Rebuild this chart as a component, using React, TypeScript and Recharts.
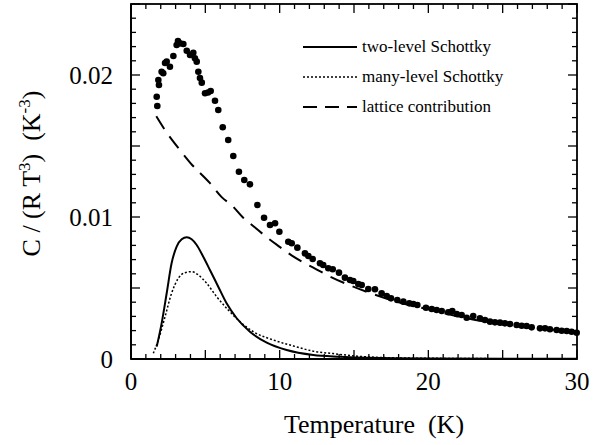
import React, { useEffect, useState } from "react";
import { ComposedChart, Line, Scatter, XAxis, YAxis, Legend } from "recharts";

// measured specific heat, [T (K), C/(R T^3) (K^-3)]
const measured: [number, number][] = [
  [1.73, 0.01847], [1.77, 0.01782], [1.84, 0.01965], [1.88, 0.0193], [2.06, 0.02023],
  [2.17, 0.02012], [2.29, 0.02085], [2.4, 0.02094], [2.62, 0.02058], [2.85, 0.02134],
  [3.07, 0.02211], [3.16, 0.02239], [3.3, 0.02223], [3.52, 0.02218], [3.75, 0.02171],
  [3.97, 0.02141], [4.19, 0.02157], [4.3, 0.02118], [4.42, 0.02094], [4.53, 0.02023],
  [4.64, 0.01979], [4.76, 0.01946], [4.98, 0.01871], [5.18, 0.01877], [5.36, 0.01887],
  [5.65, 0.01819], [5.87, 0.01754], [6.17, 0.01632], [6.54, 0.01542], [6.88, 0.0143],
  [7.26, 0.01319], [7.62, 0.01261], [8.0, 0.0123], [8.5, 0.01085], [8.95, 0.00995],
  [9.35, 0.00944], [9.69, 0.00956], [9.98, 0.00896], [10.58, 0.00826], [10.81, 0.00815],
  [11.19, 0.00784], [11.7, 0.00744], [11.93, 0.00725], [12.22, 0.00704], [12.71, 0.00674],
  [12.93, 0.00662], [13.27, 0.00639], [13.57, 0.00632], [13.99, 0.00608], [14.39, 0.00573],
  [14.73, 0.00556], [14.95, 0.00549], [15.29, 0.00528], [15.52, 0.00521], [15.96, 0.00493],
  [16.41, 0.00491], [16.86, 0.00463], [17.2, 0.00444], [17.49, 0.00427], [17.91, 0.00415],
  [18.32, 0.00404], [18.72, 0.00392], [18.99, 0.00387], [19.26, 0.0038], [19.84, 0.00361],
  [20.23, 0.00352], [20.56, 0.00345], [20.9, 0.00338], [21.34, 0.00329], [21.61, 0.00338],
  [21.91, 0.00317], [22.24, 0.0031], [22.58, 0.00291], [23.02, 0.00303], [23.47, 0.00287],
  [23.81, 0.00275], [24.15, 0.00263], [24.48, 0.00258], [24.82, 0.00256], [25.15, 0.00251],
  [25.49, 0.00246], [25.94, 0.00239], [26.28, 0.00234], [26.61, 0.00232], [26.95, 0.00223],
  [27.51, 0.00216], [27.85, 0.00216], [28.18, 0.00209], [28.63, 0.00204], [28.97, 0.00199],
  [29.31, 0.00197], [29.64, 0.00192], [29.98, 0.00185],
];

const twoLevel: [number, number][] = [
  [1.73, 0.00087], [2.06, 0.00251], [2.4, 0.00463], [2.73, 0.00674], [3.07, 0.00791],
  [3.41, 0.00843], [3.75, 0.00857], [4.08, 0.00843], [4.42, 0.00803], [4.86, 0.0072],
  [5.31, 0.00627], [5.87, 0.00509], [6.43, 0.00392], [7.11, 0.00287], [8.0, 0.00192],
  [9.13, 0.00115], [10.47, 0.00063], [12.26, 0.00028], [14.06, 0.00016], [16, 0.00008],
  [20, 0.00003], [30, 0.00001],
];

const manyLevel: [number, number][] = [
  [1.5, 0.0004], [1.84, 0.00134], [2.29, 0.00298], [2.73, 0.00463], [3.18, 0.00568],
  [3.63, 0.00608], [4.08, 0.00615], [4.53, 0.00592], [5.09, 0.00533], [5.76, 0.00439],
  [6.54, 0.00345], [7.33, 0.00263], [8.23, 0.00192], [9.57, 0.00134], [10.92, 0.00092],
  [12.26, 0.00055], [13.6, 0.00038], [15.2, 0.0002], [17, 0.0001], [20, 0.00005],
  [30, 0.00001],
];

const lattice: [number, number][] = [
  [1.7, 0.0171], [2.3, 0.0161], [3.3, 0.0147], [4.0, 0.0138], [5.3, 0.0124],
  [6.1, 0.0114], [6.8, 0.0108], [7.5, 0.01], [8.3, 0.0093], [9.1, 0.0086],
  [10.0, 0.0079], [10.8, 0.0073], [11.6, 0.0068], [12.5, 0.0063], [13.4, 0.0058],
  [14.7, 0.0052], [16.2, 0.0046], [18, 0.004], [20, 0.0035], [22, 0.003],
  [24, 0.0026], [26, 0.0023], [28, 0.0021], [30, 0.0019],
];

const xLabelTicks = [0, 10, 20, 30];
const yLabelTicks = [0, 0.01, 0.02];
const xTicks = Array.from({ length: 31 }, (_, i) => i);
const yTicks = Array.from({ length: 26 }, (_, i) => i / 1000);
const X_MAX = 30;
const Y_MAX = 0.025;

const seriesNames = ["two-level Schottky", "many-level Schottky", "lattice contribution"];
const seriesDash: Record<string, string | undefined> = {
  "two-level Schottky": undefined,
  "many-level Schottky": "2 2",
  "lattice contribution": "15 9",
};

const toRows = (arr: [number, number][]) => arr.map(([T, C]) => ({ T, C }));

// layout
const W = 606;
const H = 445;
const PLOT = { left: 131, top: 4, right: 577, bottom: 359 };
const XAXIS_H = 40;

const FONT = "'Liberation Serif', 'Times New Roman', serif";
const AXIS_W = 1.8;
const TICK_W = 1.3;

const isMajorX = (v: number) => v % 5 === 0;
const isMajorY = (v: number) => Math.round(v * 1000) % 5 === 0;

const BottomTick = (props: any) => {
  const { x, y, payload } = props;
  const v = payload.value;
  if (!xLabelTicks.includes(v)) return <g />;
  return (
    <text x={x} y={y + 31} textAnchor="middle" fontSize={25} fontFamily={FONT} fill="#000">
      {v}
    </text>
  );
};

const LeftTick = (props: any) => {
  const { x, y, payload } = props;
  const v = payload.value;
  if (!yLabelTicks.some((t) => Math.abs(t - v) < 1e-9)) return <g />;
  return (
    <text x={x - 18} y={y + 8.5} textAnchor="end" fontSize={25} fontFamily={FONT} fill="#000">
      {v === 0 ? "0" : v.toFixed(2)}
    </text>
  );
};

const YTitle = (props: any) => {
  const cx = 40;
  const cy = (props.viewBox?.y ?? PLOT.top) + (props.viewBox?.height ?? PLOT.bottom - PLOT.top) / 2 - 8;
  return (
    <text
      x={cx}
      y={cy}
      transform={`rotate(-90, ${cx}, ${cy})`}
      textAnchor="middle"
      fontSize={26}
      fontFamily={FONT}
      fill="#000"
      style={{ whiteSpace: "pre" }}
    >
      C / (R T<tspan dy={-10} fontSize={17}>3</tspan>
      <tspan dy={10}>{")  (K"}</tspan>
      <tspan dy={-10} fontSize={17}>-3</tspan>
      <tspan dy={10}>)</tspan>
    </text>
  );
};

const XTitle = (props: any) => {
  const vb = props.viewBox || { x: PLOT.left, y: PLOT.bottom, width: PLOT.right - PLOT.left };
  return (
    <text
      x={vb.x + vb.width / 2 + 20}
      y={vb.y + 74}
      textAnchor="middle"
      fontSize={26}
      fontFamily={FONT}
      fill="#000"
      style={{ whiteSpace: "pre" }}
    >
      {"Temperature  (K)"}
    </text>
  );
};

const renderLegend = () => (
  <svg width={260} height={95}>
    {seriesNames.map((name, i) => {
      const cy = 17 + i * 30;
      return (
        <g key={name}>
          <line
            x1={3}
            x2={57}
            y1={cy}
            y2={cy}
            stroke="#000"
            strokeWidth={name === "many-level Schottky" ? 1.3 : 2}
            strokeDasharray={name === "lattice contribution" ? "14 8" : seriesDash[name]}
          />
          <text x={62} y={cy + 5} fontSize={17} fontFamily={FONT} fill="#000">
            {name}
          </text>
        </g>
      );
    })}
  </svg>
);

// box frame with inward ticks on all four sides, laid over the chart
const Frame = () => {
  const sx = (T: number) => PLOT.left + (T / X_MAX) * (PLOT.right - PLOT.left);
  const sy = (C: number) => PLOT.bottom - (C / Y_MAX) * (PLOT.bottom - PLOT.top);
  return (
    <svg
      width={W}
      height={H}
      style={{ position: "absolute", left: 0, top: 0, pointerEvents: "none" }}
    >
      <rect
        x={PLOT.left}
        y={PLOT.top}
        width={PLOT.right - PLOT.left}
        height={PLOT.bottom - PLOT.top}
        fill="none"
        stroke="#000"
        strokeWidth={AXIS_W}
      />
      {xTicks.map((t) => {
        const len = isMajorX(t) ? 9 : 5;
        const x = sx(t);
        return (
          <g key={`x${t}`}>
            <line x1={x} x2={x} y1={PLOT.bottom} y2={PLOT.bottom - len} stroke="#000" strokeWidth={TICK_W} />
            <line x1={x} x2={x} y1={PLOT.top} y2={PLOT.top + len} stroke="#000" strokeWidth={TICK_W} />
          </g>
        );
      })}
      {yTicks.map((t) => {
        const len = isMajorY(t) ? 9 : 5;
        const y = sy(t);
        return (
          <g key={`y${t}`}>
            <line x1={PLOT.left} x2={PLOT.left + len} y1={y} y2={y} stroke="#000" strokeWidth={TICK_W} />
            <line x1={PLOT.right} x2={PLOT.right - len} y1={y} y2={y} stroke="#000" strokeWidth={TICK_W} />
          </g>
        );
      })}
    </svg>
  );
};

const common = { xAxisId: "bottom", yAxisId: "left", isAnimationActive: false } as const;

export default function App() {
  // one extra render after mount so every chart layer is settled
  const [, setReady] = useState(false);
  useEffect(() => {
    const t = setTimeout(() => setReady(true), 50);
    return () => clearTimeout(t);
  }, []);

  return (
    <div style={{ position: "absolute", left: 0, top: 0, width: W, height: H }}>
      <ComposedChart
        width={W}
        height={H}
        margin={{ top: PLOT.top, right: W - PLOT.right, bottom: H - PLOT.bottom - XAXIS_H, left: 0 }}
      >
        <XAxis
          xAxisId="bottom"
          dataKey="T"
          type="number"
          domain={[0, X_MAX]}
          ticks={xTicks}
          interval={0}
          tickSize={0}
          tickMargin={0}
          tickLine={false}
          tick={<BottomTick />}
          axisLine={{ stroke: "#000", strokeWidth: AXIS_W }}
          height={XAXIS_H}
          label={<XTitle />}
        />
        <YAxis
          yAxisId="left"
          type="number"
          domain={[0, Y_MAX]}
          ticks={yTicks}
          interval={0}
          tickSize={0}
          tickMargin={0}
          tickLine={false}
          tick={<LeftTick />}
          axisLine={{ stroke: "#000", strokeWidth: AXIS_W }}
          width={PLOT.left}
          label={<YTitle />}
        />
        <Legend
          layout="vertical"
          align="center"
          verticalAlign="middle"
          content={renderLegend}
          wrapperStyle={{ position: "absolute", left: 300, top: 30, width: 260, height: 95 }}
        />

        <Line
          {...common}
          data={toRows(twoLevel)}
          dataKey="C"
          name={seriesNames[0]}
          type="monotone"
          stroke="#000"
          strokeWidth={2}
          dot={false}
          activeDot={false}
        />
        <Line
          {...common}
          data={toRows(manyLevel)}
          dataKey="C"
          name={seriesNames[1]}
          type="monotone"
          stroke="#000"
          strokeWidth={1.5}
          strokeDasharray={seriesDash[seriesNames[1]]}
          dot={false}
          activeDot={false}
        />
        <Line
          {...common}
          data={toRows(lattice)}
          dataKey="C"
          name={seriesNames[2]}
          type="monotone"
          stroke="#000"
          strokeWidth={2}
          strokeDasharray={seriesDash[seriesNames[2]]}
          dot={false}
          activeDot={false}
        />
        <Scatter
          {...common}
          data={toRows(measured)}
          dataKey="C"
          name="data"
          legendType="none"
          fill="#000"
          shape={(p: any) => <circle cx={p.cx} cy={p.cy} r={3.3} fill="#000" />}
        />
      </ComposedChart>
      <Frame />
    </div>
  );
}
